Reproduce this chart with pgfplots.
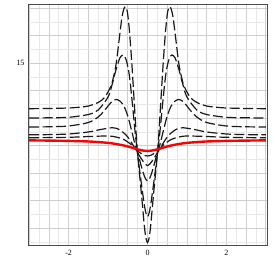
\documentclass[border=0pt]{standalone}
\usepackage{pgfplots}
\pgfplotsset{compat=1.18}
\usepackage{fontspec}
\setmainfont{Liberation Serif}
\begin{document}
\begin{tikzpicture}
\begin{axis}[
  scale only axis, width=239pt, height=240.7pt,
  xmin=-3.03, xmax=3.03, ymin=8.393, ymax=17.145,
  xtick={-3,-2.5,...,3},
  xticklabels={,,-2,,,,0,,,,2,,},
  ytick={9,10,...,17},
  yticklabels={,,,,,,15,,},
  minor xtick={-2.75,-2.25,...,2.75},
  minor ytick={8.5,9.5,...,16.5},
  major tick length=0pt, minor tick length=0pt,
  xmajorgrids, ymajorgrids, xminorgrids, yminorgrids,
  major grid style={draw=black!19, line width=0.7pt},
  minor grid style={draw=black!9, line width=0.6pt},
  axis line style={draw=black!70, line width=0.9pt},
  ticklabel style={font=\fontsize{8}{9}\selectfont},
  xticklabel style={yshift=-1.5pt},
  every axis plot/.append style={smooth, tension=0.5},
]
\addplot[black!90, line width=1.2pt, dash pattern=on 10pt off 3.5pt] coordinates {
(-3,13.349)(-2.5,13.357)(-2,13.375)(-1.75,13.400)(-1.5,13.447)(-1.25,13.575)(-1.1,13.738)(-1.0,13.957)(-0.9,14.284)(-0.8,14.938)(-0.72,15.847)(-0.65,16.647)(-0.6,16.975)(-0.557,17.058)(-0.51,16.866)(-0.46,16.211)(-0.40,15.047)(-0.34,13.666)(-0.30,12.720)(-0.263,11.920)(-0.2,10.938)(-0.137,9.993)(-0.08,9.084)(-0.04,8.647)(0,8.484)
(0.04,8.647)(0.08,9.084)(0.137,9.993)(0.2,10.938)(0.263,11.920)(0.30,12.720)(0.34,13.666)(0.40,15.047)(0.46,16.211)(0.51,16.866)(0.557,17.058)(0.6,16.975)(0.65,16.647)(0.72,15.847)(0.8,14.938)(0.9,14.284)(1.0,13.957)(1.1,13.738)(1.25,13.575)(1.5,13.447)(1.75,13.400)(2,13.375)(2.5,13.357)(3,13.349)};
\addplot[black!90, line width=1.2pt, dash pattern=on 10pt off 3.5pt] coordinates {
(-3,13.011)(-2.5,13.018)(-2,13.036)(-1.5,13.138)(-1.25,13.302)(-1.0,13.775)(-0.9,14.211)(-0.8,14.757)(-0.7,15.193)(-0.616,15.302)(-0.55,15.157)(-0.49,14.829)(-0.44,14.320)(-0.38,13.484)(-0.32,12.575)(-0.263,11.847)(-0.2,11.120)(-0.137,10.429)(-0.08,9.847)(-0.04,9.556)(0,9.422)
(0.04,9.556)(0.08,9.847)(0.137,10.429)(0.2,11.120)(0.263,11.847)(0.32,12.575)(0.38,13.484)(0.44,14.320)(0.49,14.829)(0.55,15.157)(0.616,15.302)(0.7,15.193)(0.8,14.757)(0.9,14.211)(1.0,13.775)(1.25,13.302)(1.5,13.138)(2,13.036)(2.5,13.018)(3,13.011)};
\addplot[black!90, line width=1.2pt, dash pattern=on 10pt off 3.5pt] coordinates {
(-3,12.684)(-2.5,12.691)(-2,12.720)(-1.5,12.847)(-1.25,13.047)(-1.1,13.266)(-1.0,13.448)(-0.9,13.611)(-0.8,13.684)(-0.7,13.629)(-0.6,13.448)(-0.5,13.084)(-0.4,12.538)(-0.32,12.066)(-0.263,11.811)(-0.2,11.484)(-0.137,11.156)(-0.08,10.902)(-0.04,10.775)(0,10.720)
(0.04,10.775)(0.08,10.902)(0.137,11.156)(0.2,11.484)(0.263,11.811)(0.32,12.066)(0.4,12.538)(0.5,13.084)(0.6,13.448)(0.7,13.629)(0.8,13.684)(0.9,13.611)(1.0,13.448)(1.1,13.266)(1.25,13.047)(1.5,12.847)(2,12.720)(2.5,12.691)(3,12.684)};
\addplot[black!90, line width=1.2pt, dash pattern=on 10pt off 3.5pt] coordinates {
(-3,12.400)(-2.5,12.407)(-2,12.429)(-1.5,12.502)(-1.25,12.575)(-1.0,12.640)(-0.9,12.658)(-0.8,12.640)(-0.7,12.575)(-0.6,12.466)(-0.5,12.320)(-0.4,12.102)(-0.3,11.866)(-0.2,11.629)(-0.1,11.411)(0,11.277)
(0.1,11.411)(0.2,11.629)(0.3,11.866)(0.4,12.102)(0.5,12.320)(0.6,12.466)(0.7,12.575)(0.8,12.640)(0.9,12.658)(1.0,12.640)(1.25,12.575)(1.5,12.502)(2,12.429)(2.5,12.407)(3,12.400)};
\addplot[black!90, line width=1.2pt, dash pattern=on 10pt off 3.5pt] coordinates {
(-3,12.291)(-2,12.309)(-1.5,12.338)(-1.0,12.356)(-0.8,12.320)(-0.6,12.229)(-0.4,12.029)(-0.3,11.884)(-0.2,11.757)(-0.1,11.666)(0,11.629)
(0.1,11.666)(0.2,11.757)(0.3,11.884)(0.4,12.029)(0.6,12.229)(0.8,12.320)(1.0,12.356)(1.5,12.338)(2,12.309)(3,12.291)};
\addplot[red, line width=2.4pt] coordinates {
(-3,12.197)(-2.5,12.189)(-2,12.178)(-1.5,12.157)(-1.25,12.135)(-1,12.106)(-0.8,12.066)(-0.6,12.011)(-0.4,11.935)(-0.2,11.851)(0,11.811)
(0.2,11.851)(0.4,11.935)(0.6,12.011)(0.8,12.066)(1,12.106)(1.25,12.135)(1.5,12.157)(2,12.178)(2.5,12.189)(3,12.197)};
\end{axis}
\path ([xshift=-28pt,yshift=-28pt]current axis.south west) rectangle ([xshift=6pt,yshift=4.3pt]current axis.north east);
\end{tikzpicture}
\end{document}
